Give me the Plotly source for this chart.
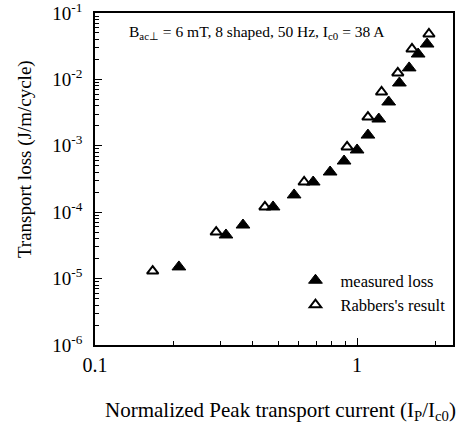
import plotly.graph_objects as go

# Data
measured_x = [0.209, 0.316, 0.367, 0.478, 0.575, 0.680, 0.789, 0.892, 1.00, 1.10,
              1.21, 1.32, 1.45, 1.58, 1.71, 1.85]
measured_y = [1.50e-5, 4.54e-5, 6.41e-5, 1.20e-4, 1.82e-4, 2.85e-4, 4.03e-4, 5.90e-4,
              8.65e-4, 1.45e-3, 2.53e-3, 4.57e-3, 8.83e-3, 1.49e-2, 2.41e-2, 3.41e-2]
rabbers_x = [0.166, 0.290, 0.445, 0.628, 0.916, 1.10, 1.24, 1.43, 1.62, 1.88]
rabbers_y = [1.30e-5, 5.03e-5, 1.20e-4, 2.85e-4, 9.6e-4, 2.71e-3, 6.46e-3, 1.25e-2,
             2.87e-2, 4.83e-2]

y_tickvals = [1e-6, 1e-5, 1e-4, 1e-3, 1e-2, 1e-1]
y_ticktext = ["10<sup>-6</sup>", "10<sup>-5</sup>", "10<sup>-4</sup>",
              "10<sup>-3</sup>", "10<sup>-2</sup>", "10<sup>-1</sup>"]
x_tickvals = [0.1, 1]
x_ticktext = ["0.1", "1"]

y_minor = [m * 10.0 ** e for e in range(-6, -1) for m in range(2, 10)]
x_minor = [m * 10.0 ** e for e in range(-1, 1) for m in range(2, 10)]

FONT = "Liberation Serif"

fig = go.Figure()
fig.add_trace(go.Scatter(
    x=measured_x, y=measured_y, mode="markers", name="measured loss",
    marker=dict(symbol="triangle-up", size=12, color="black",
                line=dict(color="black", width=1))))
fig.add_trace(go.Scatter(
    x=rabbers_x, y=rabbers_y, mode="markers", name="Rabbers's result",
    marker=dict(symbol="triangle-up-open", size=10, color="black",
                line=dict(color="black", width=2))))

fig.update_layout(
    width=462, height=424,
    margin=dict(l=95, r=9, t=13, b=79),
    paper_bgcolor="white", plot_bgcolor="white",
    font=dict(family=FONT, color="black", size=16),
    showlegend=True,
    legend=dict(x=0.546, y=0.247, xanchor="left", yanchor="top",
                bgcolor="rgba(0,0,0,0)", font=dict(size=16.5, family=FONT),
                itemwidth=40, tracegroupgap=0),
)

fig.update_xaxes(
    type="log", range=[-1, 0.366], automargin=False,
    tickvals=x_tickvals, ticktext=x_ticktext,
    ticks="inside", ticklen=7, tickwidth=1, tickcolor="black",
    minor=dict(ticks="inside", ticklen=4, tickcolor="black", tickvals=x_minor,
               showgrid=False),
    showline=True, linecolor="black", linewidth=1.5, mirror=True,
    showgrid=False, zeroline=False,
    tickfont=dict(size=20, family=FONT),
    ticklabelstandoff=1, ticklabeloverflow="allow",
)
fig.update_yaxes(
    type="log", range=[-6, -1], automargin=False,
    tickvals=y_tickvals, ticktext=y_ticktext,
    ticks="inside", ticklen=7, tickwidth=1, tickcolor="black",
    minor=dict(ticks="inside", ticklen=4, tickcolor="black", tickvals=y_minor,
               showgrid=False),
    showline=True, linecolor="black", linewidth=1.5, mirror=True,
    showgrid=False, zeroline=False,
    tickfont=dict(size=19, family=FONT),
    ticklabelstandoff=7, ticklabeloverflow="allow",
)

# axis titles placed as annotations to match the reference positions
fig.add_annotation(
    xref="paper", yref="paper", x=0.517, y=-0.199, xanchor="center", yanchor="middle",
    text="Normalized Peak transport current (I<sub>P</sub>/I<sub>c0</sub>)",
    showarrow=False, font=dict(size=21, family=FONT, color="black"))
fig.add_annotation(
    xref="paper", yref="paper", x=-0.1955, y=0.56, xanchor="center", yanchor="middle",
    text="Transport loss (J/m/cycle)", textangle=-90,
    showarrow=False, font=dict(size=19, family=FONT, color="black"))

fig.add_annotation(
    xref="paper", yref="paper", x=0.09, y=0.94, xanchor="left", yanchor="middle",
    text="B<sub>ac⊥</sub> = 6 mT, 8 shaped, 50 Hz, I<sub>c0</sub> = 38 A",
    showarrow=False, font=dict(size=15.5, family=FONT, color="black"))

fig.write_html("out.html", config={"displayModeBar": False},
               post_script="document.body.style.margin='0';")
